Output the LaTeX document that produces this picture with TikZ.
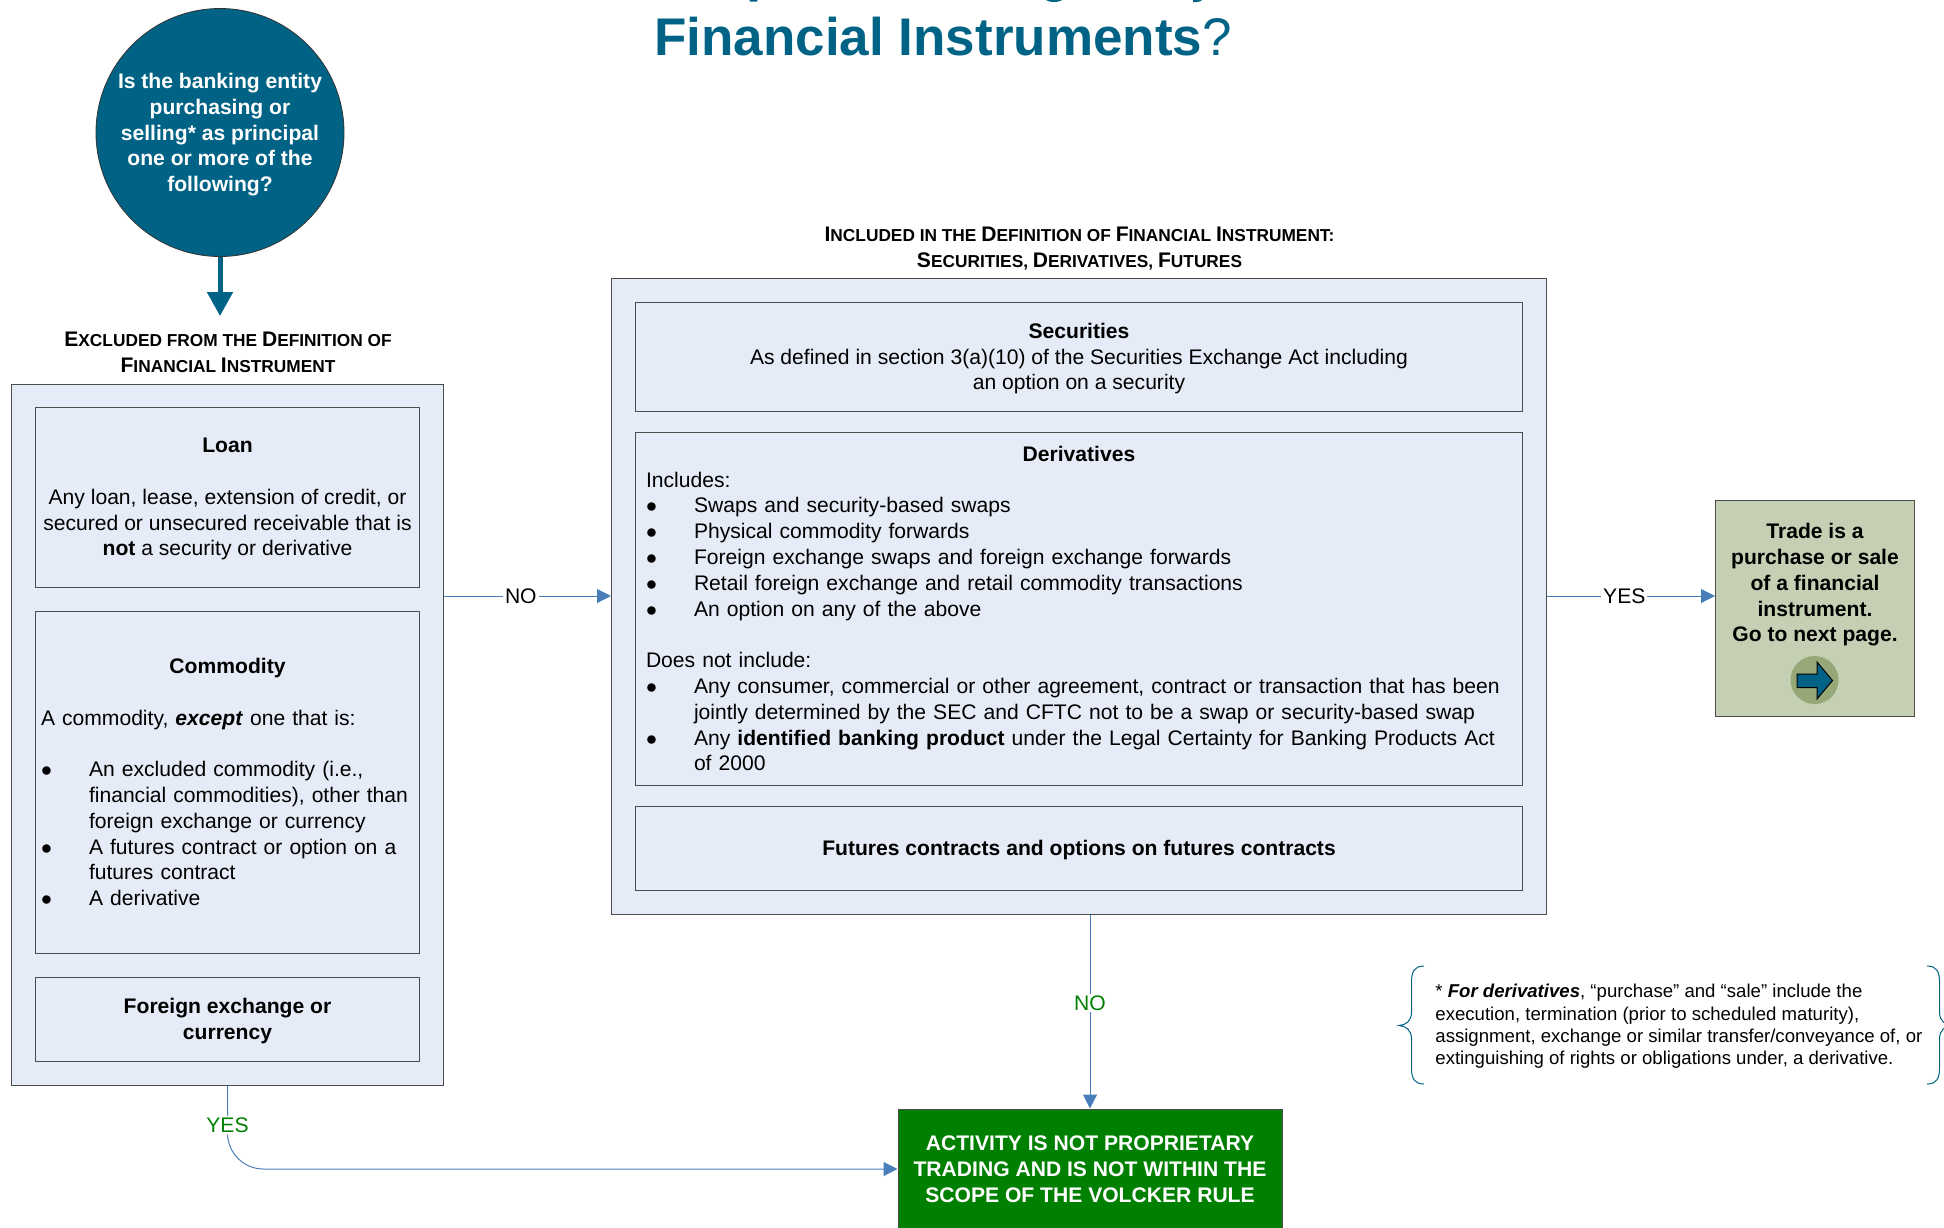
\documentclass[tikz,border=0pt]{standalone}
\usepackage{fontspec}
\setmainfont{Liberation Sans}
\usetikzlibrary{arrows.meta}
\definecolor{teal}{HTML}{006385}
\definecolor{paleblue}{HTML}{E6ECF7}
\definecolor{flowblue}{HTML}{4A7EBB}
\definecolor{sage}{HTML}{C5CFB3}
\definecolor{darksage}{HTML}{96A878}
\definecolor{yesgreen}{HTML}{008000}
\newcommand{\bul}{\makebox[24pt][l]{$\bullet$}}
\newcommand{\ind}{\hspace*{24pt}}
\newcommand{\boxtitle}[1]{\makebox[\linewidth]{\bfseries #1}}
\newcommand{\hdcap}[1]{{\fontsize{10.55}{12.9}\selectfont #1}}
\tikzset{
	bodytext/.style = {font = \fontsize{10.55}{12.9}\selectfont},
	outerbox/.style = {draw = black!70, line width = 0.5pt, fill = paleblue, minimum height = 0pt, inner sep = 0pt},
	innerbox/.style = {outerbox, bodytext, align = center, text depth = 0pt},
	listbox/.style = {outerbox, bodytext, align = left},
	header/.style = {font = \fontsize{8.65}{12.9}\selectfont\bfseries, align = center},
	flowline/.style = {draw = flowblue, line width = 0.5pt, -{Triangle[length = 7pt, width = 7pt]}},
	flowlabel/.style = {bodytext, fill = white, inner sep = 1pt},
	greenlabel/.style = {flowlabel, text = yesgreen}
}
\begin{document}
\begin{tikzpicture}[x = 0.5pt, y = -0.5pt]
	\useasboundingbox (0,0) rectangle (1944,1227);

	\draw (943,55) node[anchor = base,
					 text = teal,
					 font = \fontsize{26.5}{30}\selectfont] (Title) {\textbf{Financial Instruments}?};
	\fill[teal] (749,-1) -- (758,-1) -- (757,1.5) -- (750,1.5) -- cycle;
	\fill[teal] (1045,-1) .. controls (1048,3) and (1060,3) .. (1063,-1) -- cycle;
	\fill[teal] (1193,-1) -- (1203,-1) .. controls (1201,2) and (1196,2.5) .. (1193,2) -- cycle;

	\draw (220,132.5) node[shape = circle,
					 draw = black!80,
					 fill = teal,
					 text = white,
					 minimum size = 124pt,
					 inner sep = 0pt,
					 align = center,
					 text depth = 0pt,
					 bodytext] (Question) {\bfseries Is the banking entity\\ \bfseries purchasing or\\ \bfseries selling* as principal\\ \bfseries one or more of the\\ \bfseries following?};
	\coordinate (QuestionEnd) at (220,316);
	\draw[teal, line width = 2.5pt, -{Triangle[length = 12pt, width = 12.5pt]}] (Question) -- (QuestionEnd);

	\draw (228,352) node[header] (ExclHead) {\hdcap{E}XCLUDED FROM THE \hdcap{D}EFINITION OF\\ \hdcap{F}INANCIAL \hdcap{I}NSTRUMENT};
	\draw (1079.5,248.5) node[header] (InclHead) {\hdcap{I}NCLUDED IN THE \hdcap{D}EFINITION OF \hdcap{F}INANCIAL \hdcap{I}NSTRUMENT:\\ \hdcap{S}ECURITIES, \hdcap{D}ERIVATIVES, \hdcap{F}UTURES};

	\draw (227.5,734.5) node[outerbox,
					 minimum width = 216pt,
					 minimum height = 350.5pt] (Excl) {};
	\draw (227.5,497) node[innerbox,
					 minimum width = 192pt,
					 minimum height = 90pt] (Loan) {\textbf{Loan}\\[12.9pt] Any loan, lease, extension of credit, or\\ secured or unsecured receivable that is\\ \textbf{not} a security or derivative};
	\draw (227.5,782) node[listbox,
					 inner xsep = 2.75pt,
					 text width = 186.5pt,
					 minimum height = 171pt] (Commodity) {\boxtitle{Commodity}\\[12.9pt] A commodity, \textit{\textbf{except}} one that is:\\[12.9pt] \bul An excluded commodity (i.e.,\\ \ind financial commodities), other than\\ \ind foreign exchange or currency\\ \bul A futures contract or option on a\\ \ind futures contract\\ \bul A derivative};
	\draw (227.5,1019) node[innerbox,
					 minimum width = 192pt,
					 minimum height = 42pt] (Forex) {\bfseries Foreign exchange or\\ \bfseries currency};

	\draw (1079,596) node[outerbox,
					 minimum width = 467.5pt,
					 minimum height = 318pt] (Incl) {};
	\draw (1079,356.5) node[innerbox,
					 minimum width = 443.5pt,
					 minimum height = 54.5pt] (Securities) {\textbf{Securities}\\ As defined in section 3(a)(10) of the Securities Exchange Act including\\ an option on a security};
	\draw (1079,608.5) node[listbox,
					 inner xsep = 5.25pt,
					 text width = 433pt,
					 minimum height = 176.5pt] (Derivatives) {\boxtitle{Derivatives}\\ Includes:\\ \bul Swaps and security-based swaps\\ \bul Physical commodity forwards\\ \bul Foreign exchange swaps and foreign exchange forwards\\ \bul Retail foreign exchange and retail commodity transactions\\ \bul An option on any of the above\\[12.9pt] Does not include:\\ \bul Any consumer, commercial or other agreement, contract or transaction that has been\\ \ind jointly determined by the SEC and CFTC not to be a swap or security-based swap\\ \bul Any \textbf{identified banking product} under the Legal Certainty for Banking Products Act\\ \ind of 2000};
	\draw (1079,848) node[innerbox,
					 minimum width = 443.5pt,
					 minimum height = 42pt] (Futures) {\bfseries Futures contracts and options on futures contracts};

	\draw (1815,608.5) node[outerbox,
					 fill = sage,
					 bodytext,
					 minimum width = 99.5pt,
					 minimum height = 108pt,
					 align = center] (Trade) {\bfseries Trade is a\\ \bfseries purchase or sale\\ \bfseries of a financial\\ \bfseries instrument.\\ \bfseries Go to next page.\\ \mbox{}\\ \mbox{}};
	\draw (1814.5,680) node[shape = circle,
					 fill = darksage,
					 minimum size = 24pt,
					 inner sep = 0pt] (NextDot) {};
	\draw[fill = teal, line width = 0.5pt] (1797,674) -- (1817,674) -- (1817,662) -- (1832.5,680.5) -- (1817,699) -- (1817,687.5) -- (1797,687.5) -- cycle;

	\draw (1090,1169) node[outerbox,
					 bodytext,
					 fill = yesgreen,
					 text = white,
					 minimum width = 192pt,
					 minimum height = 60pt,
					 align = center] (Activity) {\bfseries ACTIVITY IS NOT PROPRIETARY\\ \bfseries TRADING AND IS NOT WITHIN THE\\ \bfseries SCOPE OF THE VOLCKER RULE};

	\draw[flowline] (Excl.east |- Incl.west) -- node[flowlabel, pos = 0.46] (NoLabel) {NO} (Incl.west);
	\draw[flowline] (Incl.east) -- node[flowlabel, pos = 0.46] (YesLabel) {YES} (Incl.east -| Trade.west);
	\draw[flowline] (Incl.south -| Activity.north) -- node[greenlabel, pos = 0.456] (NoGreen) {NO} (Activity.north);
	\draw[flowline, rounded corners = 18pt] (Excl.south) |- node[greenlabel, pos = 0.238] (YesGreen) {YES} (Activity.west);

	\draw[teal, line width = 0.5pt] (1424,966) .. controls (1414,966) and (1411.5,972) .. (1411.5,982) -- (1411.5,1012) .. controls (1411.5,1021) and (1406,1025) .. (1399,1025.5) .. controls (1406,1026) and (1411.5,1030) .. (1411.5,1039) -- (1411.5,1068) .. controls (1411.5,1078) and (1414,1084) .. (1424,1084);
	\draw[teal, line width = 0.5pt] (1927,966) .. controls (1937,966) and (1939.5,972) .. (1939.5,982) -- (1939.5,1012) .. controls (1939.5,1021) and (1945,1025) .. (1952,1025.5) .. controls (1945,1026) and (1939.5,1030) .. (1939.5,1039) -- (1939.5,1068) .. controls (1939.5,1078) and (1937,1084) .. (1927,1084);
	\draw (1435,1026.5) node[anchor = west,
					 align = left,
					 inner sep = 0pt,
					 font = \fontsize{9.3}{11.2}\selectfont] (Note) {* \textit{\textbf{For derivatives}}, “purchase” and “sale” include the\\ execution, termination (prior to scheduled maturity),\\ assignment, exchange or similar transfer/conveyance of, or\\ extinguishing of rights or obligations under, a derivative.};
\end{tikzpicture}
\end{document}
